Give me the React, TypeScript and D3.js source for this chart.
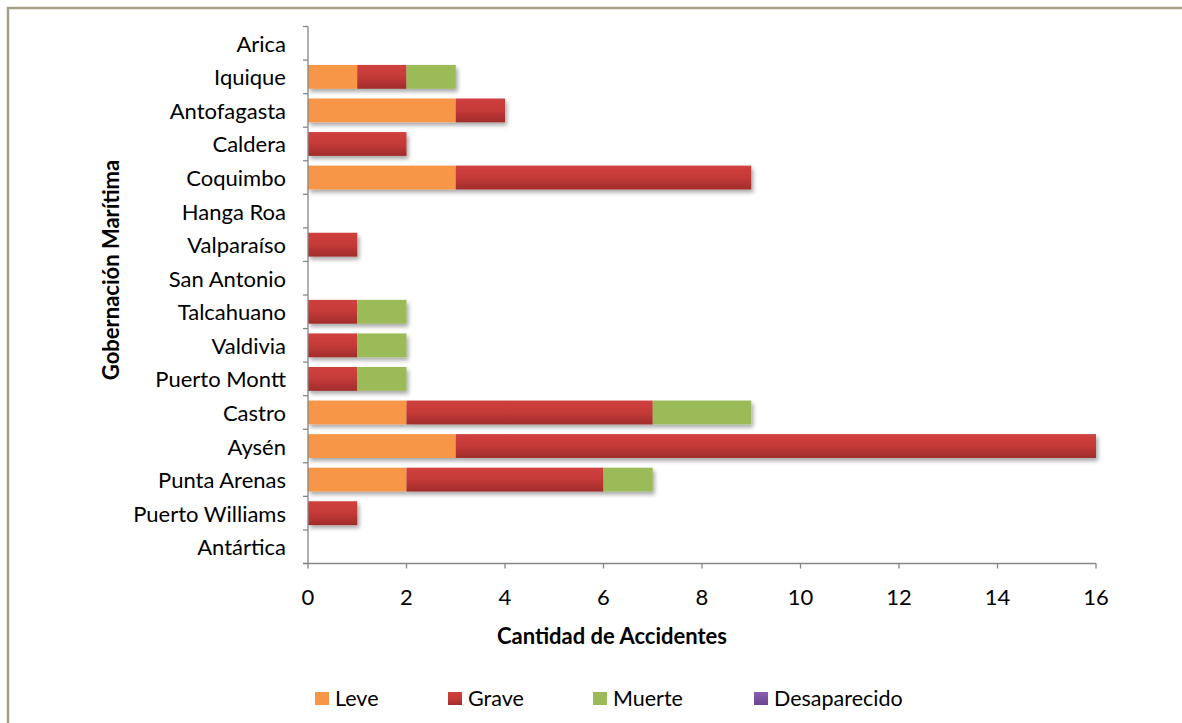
import React from "react";
import * as d3 from "d3";

const categories = ["Arica","Iquique","Antofagasta","Caldera","Coquimbo","Hanga Roa","Valparaíso","San Antonio","Talcahuano","Valdivia","Puerto Montt","Castro","Aysén","Punta Arenas","Puerto Williams","Antártica"];
const leve = [0,1,3,0,3,0,0,0,0,0,0,2,3,2,0,0];
const grave = [0,1,1,2,6,0,1,0,1,1,1,5,13,4,1,0];
const muerte = [0,1,0,0,0,0,0,0,1,1,1,2,0,1,0,0];
const desaparecido = [0,0,0,0,0,0,0,0,0,0,0,0,0,0,0,0];
const seriesNames = ["Leve","Grave","Muerte","Desaparecido"];
const seriesColors = ["#F79646","#C0504D","#9BBB59","#8064A2"];
const xTicks = [0,2,4,6,8,10,12,14,16];

export default function App() {
  const W = 1182, H = 723;
  const left = 308, right = 1096, top = 26.5, bottom = 563.5;
  const x = d3.scaleLinear().domain([0,16]).range([left,right]);
  const y = d3.scaleBand().domain(categories).range([top,bottom]).paddingInner(0.29).paddingOuter(0.145);
  const band = (bottom-top)/categories.length;
  const rows = categories.map((c,i)=>({cat:c, Leve:leve[i], Grave:grave[i], Muerte:muerte[i], Desaparecido:desaparecido[i]}));
  const stacked = d3.stack<any>().keys(seriesNames)(rows);
  const font = "Lato, 'Open Sans', sans-serif";
  const legendX = [315,448,593,754];
  const fill = (i:number) => i===1 ? "url(#gRed)" : i===3 ? "url(#gPur)" : seriesColors[i];
  return (
    <svg width={W} height={H} style={{position:"absolute",left:0,top:0}} fontFamily={font}>
      <defs>
        <linearGradient id="gRed" x1="0" y1="0" x2="0" y2="1">
          <stop offset="0" stopColor="#D0403E" />
          <stop offset="0.5" stopColor="#C43A38" />
          <stop offset="1" stopColor="#A02C2B" />
        </linearGradient>
        <linearGradient id="gPur" x1="0" y1="0" x2="0" y2="1">
          <stop offset="0" stopColor="#8A5DB0" />
          <stop offset="1" stopColor="#6A4690" />
        </linearGradient>
        <filter id="sh" x="-5%" y="-20%" width="115%" height="170%">
          <feGaussianBlur in="SourceAlpha" stdDeviation="2" />
          <feOffset dx="2" dy="3" result="b" />
          <feComponentTransfer><feFuncA type="linear" slope="0.35" /></feComponentTransfer>
          <feMerge><feMergeNode /><feMergeNode in="SourceGraphic" /></feMerge>
        </filter>
      </defs>
      <rect x={0} y={0} width={W} height={H} fill="#fff" />
      <path d={`M8,${H+5} L8,8 L${W+5},8`} fill="none" stroke="#A89F88" strokeWidth={2.5} />
      <g filter="url(#sh)">
        {stacked.map((s,si)=>s.map((d,i)=> d[1]-d[0] > 0 ? (
          <rect key={si+"-"+i} x={x(d[0])} y={y(categories[i])!} width={x(d[1])-x(d[0])} height={y.bandwidth()} fill={fill(si)} />
        ) : null))}
      </g>
      <line x1={left} x2={left} y1={top} y2={bottom} stroke="#868686" strokeWidth={1.3} />
      {d3.range(categories.length+1).map(i=>(
        <line key={i} x1={left-5} x2={left} y1={top+i*band} y2={top+i*band} stroke="#868686" strokeWidth={1.3} />
      ))}
      {categories.map(c=>(
        <text key={c} x={286} y={y(c)!+y.bandwidth()/2} textAnchor="end" dominantBaseline="central" fontSize={22} fill="#000">{c}</text>
      ))}
      <line x1={left-5} x2={right} y1={bottom} y2={bottom} stroke="#868686" strokeWidth={1.3} />
      {xTicks.map(t=>(
        <g key={t}>
          <line x1={x(t)} x2={x(t)} y1={bottom} y2={bottom+5} stroke="#868686" strokeWidth={1.3} />
          <text x={x(t)} y={596} textAnchor="middle" dominantBaseline="central" fontSize={22}>{t}</text>
        </g>
      ))}
      <text x={612} y={635} textAnchor="middle" dominantBaseline="central" fontSize={22} fontWeight="bold">Cantidad de Accidentes</text>
      <text transform={`translate(110,270) rotate(-90)`} textAnchor="middle" dominantBaseline="central" fontSize={22} fontWeight="bold">Gobernación Marítima</text>
      {seriesNames.map((n,i)=>(
        <g key={n}>
          <rect x={legendX[i]} y={692} width={14} height={13} fill={fill(i)} />
          <text x={legendX[i]+20} y={698} dominantBaseline="central" fontSize={21.5}>{n}</text>
        </g>
      ))}
    </svg>
  );
}
